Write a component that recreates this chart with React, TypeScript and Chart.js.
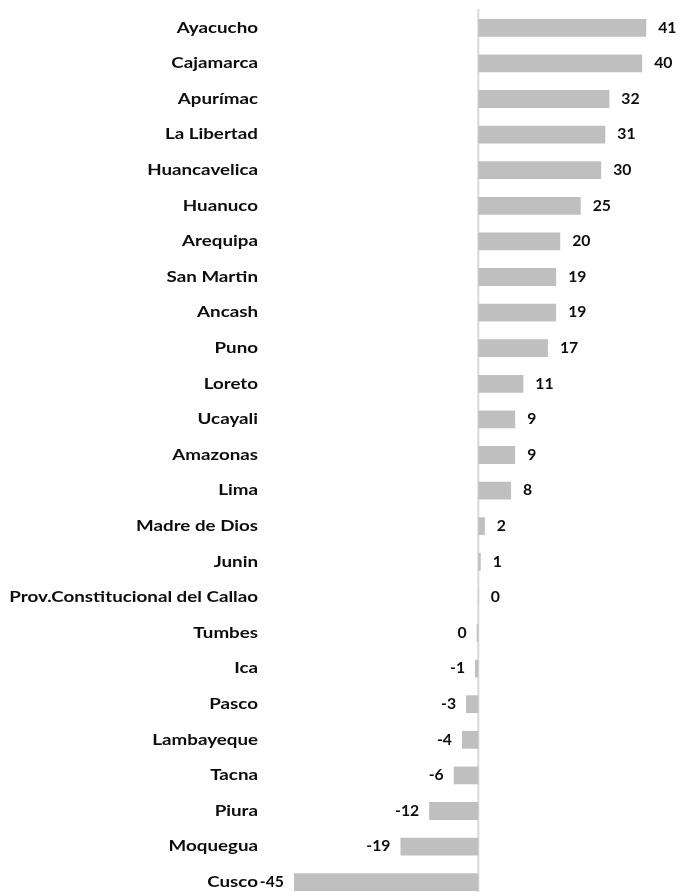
import React, { useEffect, useRef } from "react";
import { Chart, registerables } from "chart.js";

Chart.register(...registerables);

const categories = [
  "Ayacucho", "Cajamarca", "Apurímac", "La Libertad", "Huancavelica", "Huanuco",
  "Arequipa", "San Martin", "Ancash", "Puno", "Loreto", "Ucayali", "Amazonas",
  "Lima", "Madre de Dios", "Junin", "Prov.Constitucional del Callao", "Tumbes",
  "Ica", "Pasco", "Lambayeque", "Tacna", "Piura", "Moquegua", "Cusco",
];

const values = [
  41, 40, 32, 31, 30, 25, 20, 19, 19, 17, 11, 9, 9, 8, 1.6, 0.6, 0.1, -0.4,
  -0.8, -3, -4, -6, -12, -19, -45,
];

const FONT = "Lato, 'Open Sans', sans-serif";
const TEXT = "#0d0d0d";

const drawStretched = (ctx: any, txt: string, x: number, y: number, align: string, sx: number) => {
  ctx.save();
  ctx.translate(x, y);
  ctx.scale(sx, 1);
  ctx.textAlign = align;
  ctx.fillText(txt, 0, 0);
  ctx.restore();
};

const zeroLine = {
  id: "zeroLine",
  beforeDatasetsDraw(chart: any) {
    const ctx = chart.ctx;
    const x = chart.scales.x.getPixelForValue(0);
    ctx.save();
    ctx.strokeStyle = "#d9d9d9";
    ctx.lineWidth = 2;
    ctx.beginPath();
    ctx.moveTo(x, chart.chartArea.top - 1);
    ctx.lineTo(x, chart.chartArea.bottom);
    ctx.stroke();
    ctx.restore();
  },
};

const textLabels = {
  id: "textLabels",
  afterDatasetsDraw(chart: any) {
    const ctx = chart.ctx;
    const meta = chart.getDatasetMeta(0);
    const data = chart.data.datasets[0].data as number[];
    const yScale = chart.scales.y;
    ctx.save();
    ctx.font = `bold 15px ${FONT}`;
    ctx.fillStyle = TEXT;
    ctx.textBaseline = "middle";
    (chart.data.labels as string[]).forEach((lab, i) => {
      drawStretched(ctx, lab, 258, yScale.getPixelForValue(i), "right", 1.25);
    });
    ctx.font = `bold 15px ${FONT}`;
    meta.data.forEach((el: any, i: number) => {
      const v = data[i];
      const txt = String(Math.round(v));
      if (v >= 0) {
        drawStretched(ctx, txt, el.x + 12, el.y, "left", 1.05);
      } else {
        drawStretched(ctx, txt, el.x - 10, el.y, "right", 1.05);
      }
    });
    ctx.restore();
  },
};

export default function App() {
  const ref = useRef<HTMLCanvasElement>(null);

  useEffect(() => {
    if (!ref.current) return;
    const chart = new Chart(ref.current, {
      type: "bar",
      data: {
        labels: categories,
        datasets: [
          {
            data: values,
            backgroundColor: "#bfbfbf",
            categoryPercentage: 1,
            barPercentage: 0.5,
          },
        ],
      },
      options: {
        indexAxis: "y",
        animation: false,
        responsive: false,
        maintainAspectRatio: false,
        layout: { padding: { left: 0, right: 0, top: 10, bottom: 0 } },
        plugins: {
          legend: { display: false },
          tooltip: { enabled: false },
        },
        scales: {
          x: {
            min: -45,
            max: 49,
            display: false,
          },
          y: {
            display: true,
            ticks: { display: false },
            grid: { display: false, drawTicks: false },
            border: { display: false },
            afterFit: (scale: any) => {
              scale.width = 294;
            },
          },
        },
      },
      plugins: [zeroLine, textLabels],
    });
    return () => chart.destroy();
  }, []);

  return (
    <div
      style={{
        position: "fixed",
        left: 0,
        top: 0,
        width: 679,
        height: 892,
        overflow: "hidden",
        background: "#ffffff",
      }}
    >
      <canvas ref={ref} width={679} height={900} style={{ width: 679, height: 900 }} />
    </div>
  );
}
